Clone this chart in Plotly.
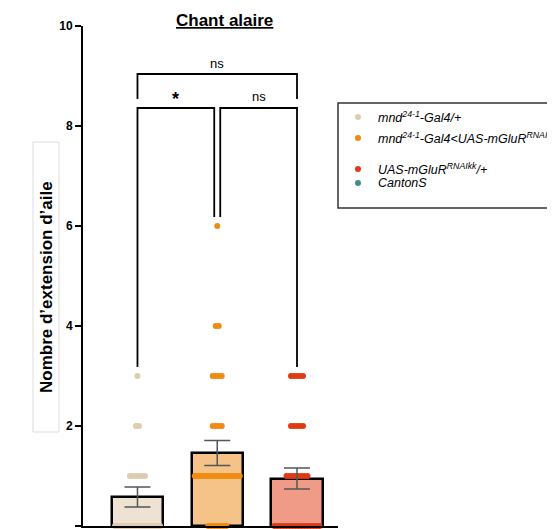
import plotly.graph_objects as go

# ---------------- data ----------------
groups = ["mnd<sup>24-1</sup>-Gal4/+",
          "mnd<sup>24-1</sup>-Gal4&lt;UAS-mGluR<sup>RNAIkk</sup>",
          "UAS-mGluR<sup>RNAIkk</sup>/+",
          "CantonS"]
group_pos = [0, 1, 2]
bar_means = [0.58, 1.46, 0.95]
bar_sem = [0.20, 0.25, 0.21]

values_g1 = [3] + [2] * 2 + [1] * 6 + [0] * 16
values_g2 = [6] + [4] * 2 + [3] * 4 + [2] * 4 + [1] * 16 + [0] * 7
values_g3 = [3] * 5 + [2] * 5 + [1] * 8 + [0] * 16
all_values = [values_g1, values_g2, values_g3]

dot_colors = ["#DFCBB0", "#F08A10", "#E03A14", "#3E8E8E"]
bar_colors = ["#EEE2D3", "#F5C387", "#EF9B87"]

title = "Chant alaire"
y_title = "Nombre d\u2019extension d\u2019aile"
y_ticks = [0, 2, 4, 6, 8, 10]

FONT = "Arial, Liberation Sans, Helvetica, sans-serif"

# ---------------- geometry helpers ----------------
OFF = 8  # page body margin
PAGE_W, PAGE_H = 555, 529
W, H = PAGE_W - OFF, PAGE_H - OFF
# plot area in page pixels: x 83..338, y 26..526
ML, MR, MT, MB = 83 - OFF, PAGE_W - 338, 26 - OFF, PAGE_H - 526
XR = [-0.683, 2.514]
PX_PER_UNIT = (338 - 83) / (XR[1] - XR[0])


def px_x(px):
    return (px - 83) / (338 - 83)


def px_y(py):
    return (526 - py) / (526 - 26)


def swarm(vals, center, dx):
    xs, ys = [], []
    for v in sorted(set(vals), reverse=True):
        n = vals.count(v)
        for i in range(n):
            xs.append(center + (i - (n - 1) / 2) * dx)
            ys.append(v)
    return xs, ys


fig = go.Figure()

# bars
fig.add_trace(go.Bar(
    x=group_pos, y=bar_means, width=0.64,
    marker=dict(color=bar_colors, line=dict(color="black", width=2.5)),
    showlegend=False, hoverinfo="skip"))

# points
dx = 3.0 / PX_PER_UNIT
for i, vals in enumerate(all_values):
    xs, ys = swarm(vals, group_pos[i], dx)
    fig.add_trace(go.Scatter(
        x=xs, y=ys, mode="markers",
        marker=dict(color=dot_colors[i], size=6, line=dict(width=0)),
        cliponaxis=False, showlegend=False, hoverinfo="skip"))

# error bars
fig.add_trace(go.Scatter(
    x=group_pos, y=bar_means, mode="markers",
    marker=dict(size=1, opacity=0),
    error_y=dict(type="data", array=bar_sem, color="#555555",
                 thickness=1.5, width=13),
    showlegend=False, hoverinfo="skip"))

shapes = []
line_k = dict(color="black", width=1.8)


def bracket(xa, xb, y_top, ya_bot, yb_bot):
    shapes.append(dict(type="path", xref="x", yref="y",
                       path=f"M {xa},{ya_bot} L {xa},{y_top} L {xb},{y_top} L {xb},{yb_bot}",
                       line=line_k))


off = 3.0 / PX_PER_UNIT
bracket(0, 2, 9.04, 8.54, 8.54)
bracket(0, 1 - off, 8.36, 3.18, 6.18)
bracket(1 + off, 2, 8.36, 6.18, 3.18)

annotations = [
    dict(x=1, y=9.26, xref="x", yref="y", text="ns", showarrow=False,
         font=dict(family=FONT, size=13, color="black")),
    dict(x=(1 + off + 2) / 2, y=8.6, xref="x", yref="y", text="ns", showarrow=False,
         font=dict(family=FONT, size=13, color="black")),
    dict(x=(0 + 1 - off) / 2, y=8.54, xref="x", yref="y", text="<b>*</b>", showarrow=False,
         font=dict(family=FONT, size=18, color="black")),
    dict(x=px_x(224), y=px_y(21), xref="paper", yref="paper",
         xanchor="center", yanchor="middle",
         text=f"<b><u>{title}</u></b>", showarrow=False,
         font=dict(family=FONT, size=17, color="black")),
    dict(x=px_x(46), y=px_y(287), xref="paper", yref="paper", text=f"<b>{y_title}</b>",
         xanchor="center", yanchor="middle",
         textangle=-90, showarrow=False,
         font=dict(family=FONT, size=17, color="black")),
]

# y title box
shapes.append(dict(type="rect", xref="paper", yref="paper",
                   x0=px_x(33), x1=px_x(59), y0=px_y(432), y1=px_y(142),
                   line=dict(color="#DDDDDD", width=1)))

# legend (manual)
shapes.append(dict(type="rect", xref="paper", yref="paper",
                   x0=px_x(338), x1=px_x(570), y0=px_y(208), y1=px_y(103),
                   line=dict(color="#333333", width=1.5)))
leg_y = [117, 138, 169, 183]
for i, g in enumerate(groups):
    r = 3
    shapes.append(dict(type="circle", xref="paper", yref="paper",
                       x0=px_x(358 - r), x1=px_x(358 + r),
                       y0=px_y(leg_y[i] + r), y1=px_y(leg_y[i] - r),
                       fillcolor=dot_colors[i], line=dict(width=0)))
    annotations.append(dict(x=px_x(376), y=px_y(leg_y[i]), xref="paper", yref="paper",
                            text=f"<i>{g}</i>", showarrow=False, xanchor="left",
                            yanchor="middle",
                            font=dict(family=FONT, size=12.5, color="black")))

fig.update_layout(
    width=W, height=H,
    margin=dict(l=ML, r=MR, t=MT, b=MB, pad=0),
    paper_bgcolor="white", plot_bgcolor="white",
    shapes=shapes, annotations=annotations,
    bargap=0,
    xaxis=dict(range=XR, showline=True, linecolor="black", linewidth=2,
               showticklabels=False, ticks="", showgrid=False, zeroline=False),
    yaxis=dict(range=[0, 10], tickvals=y_ticks, ticktext=[f"<b>{t}</b>" for t in y_ticks],
               showline=True, linecolor="black", linewidth=2, ticks="outside",
               ticklen=6, tickwidth=2, tickcolor="black", showgrid=False, zeroline=False,
               tickfont=dict(family=FONT, size=12, color="black")),
)

fig.write_html("out.html")
